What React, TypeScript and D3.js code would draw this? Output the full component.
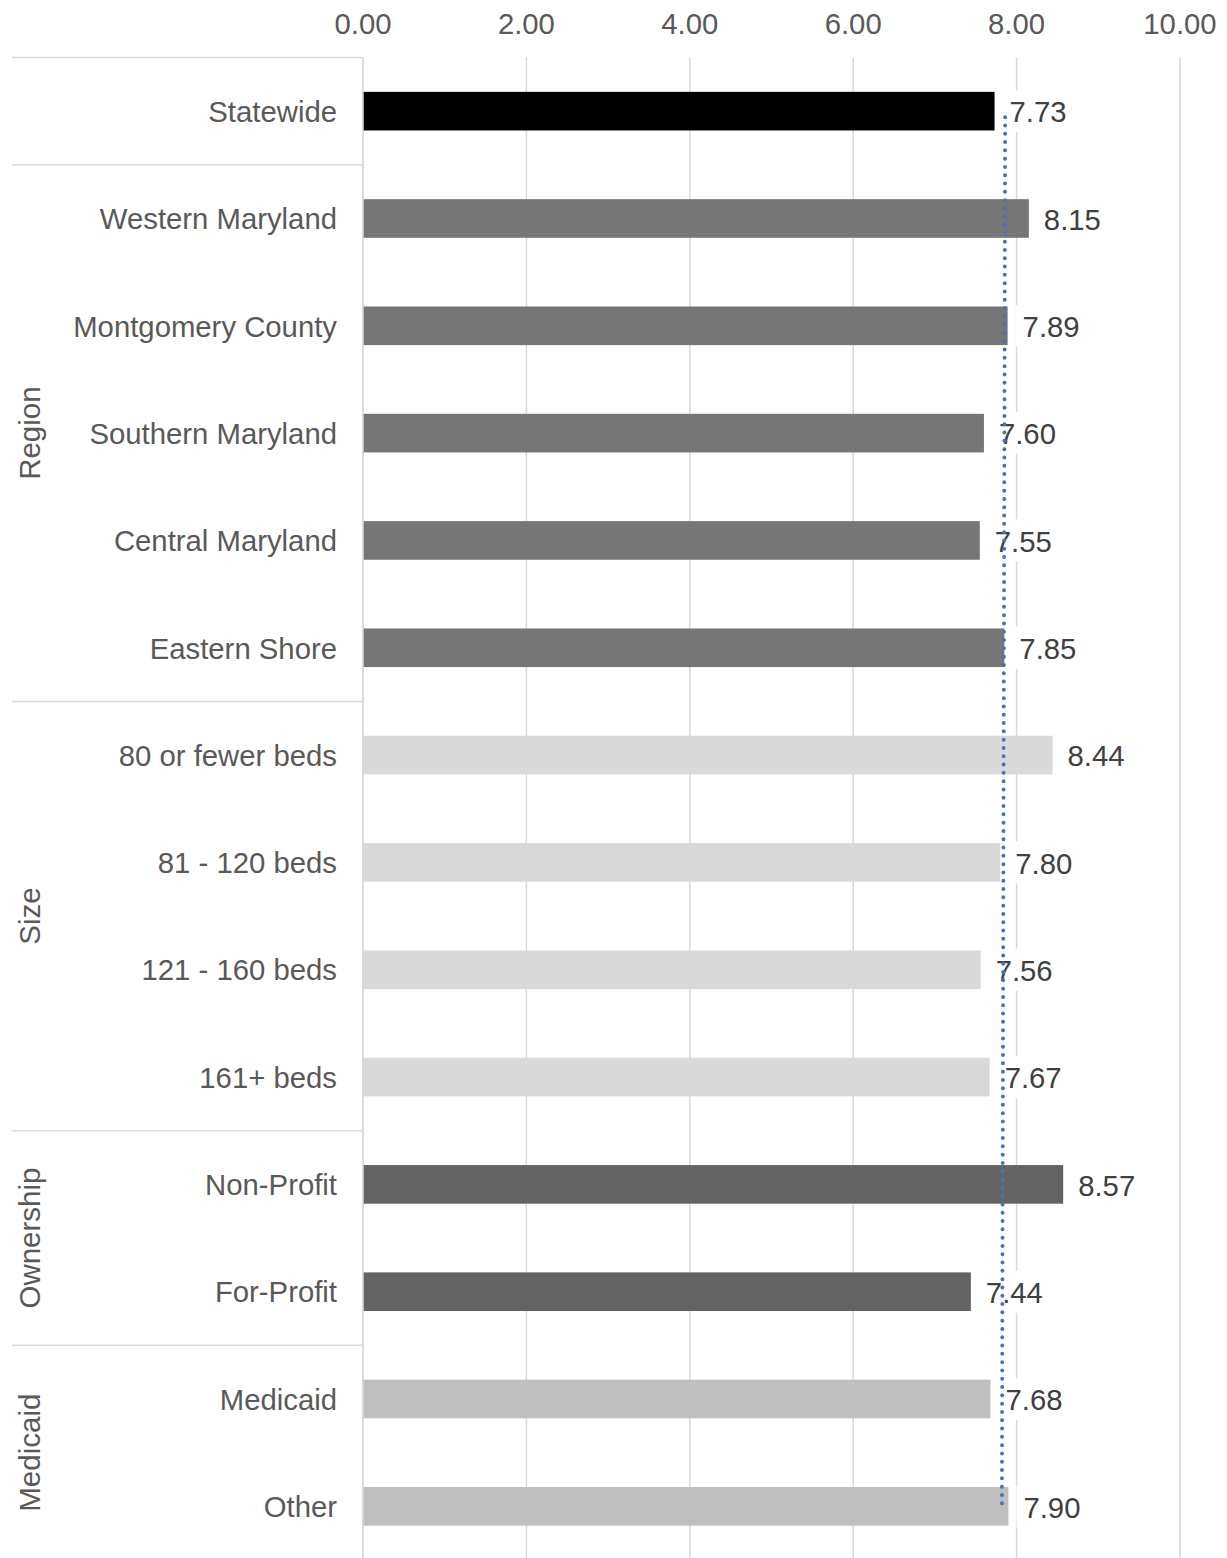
import React from "react";
import * as d3 from "d3";

// Categories in display order, top to bottom
const categories = [
  "Statewide",
  "Western Maryland",
  "Montgomery County",
  "Southern Maryland",
  "Central Maryland",
  "Eastern Shore",
  "80 or fewer beds",
  "81 - 120 beds",
  "121 - 160 beds",
  "161+ beds",
  "Non-Profit",
  "For-Profit",
  "Medicaid",
  "Other",
];

// Group each category belongs to
const groupOf = [
  "",
  "Region", "Region", "Region", "Region", "Region",
  "Size", "Size", "Size", "Size",
  "Ownership", "Ownership",
  "Medicaid", "Medicaid",
];

// Mean scores
const values = [7.73, 8.15, 7.89, 7.6, 7.55, 7.85, 8.44, 7.8, 7.56, 7.67, 8.57, 7.44, 7.68, 7.9];

// Reference line (first and last category)
const refLine = [7.86, 7.82];

const xTicks = [0, 2, 4, 6, 8, 10];

const groupColors: Record<string, string> = {
  "": "#000000",
  Region: "#767676",
  Size: "#d9d9d9",
  Ownership: "#636363",
  Medicaid: "#bfbfbf",
};

const W = 1227;
const H = 1558;
const FONT = "'Liberation Sans', Arial, sans-serif";
const FS = 29.3;

function textWidth(s: string, size: number) {
  let w = 0;
  for (const c of s) w += c === "." ? 0.278 : 0.556;
  return w * size;
}

export default function App() {
  const x = d3.scaleLinear().domain([0, 10]).range([363, 1180]);
  const y = d3.scaleBand<string>().domain(categories).range([57.5, 1560]).padding(0);
  const bw = y.bandwidth();
  const barH = bw * 0.36;

  // Group spans
  const groups: { name: string; start: number; end: number }[] = [];
  groupOf.forEach((g, i) => {
    const last = groups[groups.length - 1];
    if (last && last.name === g) last.end = i;
    else groups.push({ name: g, start: i, end: i });
  });

  const refY0 = (y(categories[0]) as number) + bw / 2;
  const refY1 = (y(categories[categories.length - 1]) as number) + bw / 2;

  return (
    <svg
      width={W}
      height={H}
      style={{ position: "absolute", left: 0, top: 0, background: "#fff" }}
      fontFamily={FONT}
    >
      {/* gridlines */}
      {xTicks.map((t) => (
        <line key={t} x1={x(t)} x2={x(t)} y1={57.5} y2={H} stroke="#d9d9d9" strokeWidth={1.5} />
      ))}
      {/* tick labels */}
      {xTicks.map((t) => (
        <text key={"t" + t} x={x(t)} y={23.5} dy="0.35em" textAnchor="middle" fontSize={FS} fill="#595959">
          {t.toFixed(2)}
        </text>
      ))}
      {/* group separators */}
      {groups.map((g) => {
        const yy = y(categories[g.start]) as number;
        return <line key={"s" + g.start} x1={12} x2={363} y1={yy} y2={yy} stroke="#d9d9d9" strokeWidth={1.5} />;
      })}
      {/* group labels */}
      {groups
        .filter((g) => g.name)
        .map((g) => {
          const y0 = y(categories[g.start]) as number;
          const y1 = (y(categories[g.end]) as number) + bw;
          const cy = (y0 + y1) / 2;
          return (
            <text
              key={"g" + g.name}
              transform={`translate(30,${cy}) rotate(-90)`}
              dy="0.35em"
              textAnchor="middle"
              fontSize={29.5}
              fill="#595959"
            >
              {g.name}
            </text>
          );
        })}
      {/* category labels */}
      {categories.map((c) => (
        <text
          key={"c" + c}
          x={337}
          y={(y(c) as number) + bw / 2 + 0.5}
          dy="0.35em"
          textAnchor="end"
          fontSize={FS}
          fill="#595959"
        >
          {c}
        </text>
      ))}
      {/* bars */}
      {categories.map((c, i) => (
        <rect
          key={"b" + c}
          x={x(0)}
          y={(y(c) as number) + (bw - barH) / 2}
          width={x(values[i]) - x(0)}
          height={barH}
          fill={groupColors[groupOf[i]]}
        />
      ))}
      {/* axis line */}
      <line x1={x(0)} x2={x(0)} y1={57.5} y2={H} stroke="#d9d9d9" strokeWidth={1.5} />
      {/* value labels */}
      {categories.map((c, i) => {
        const s = values[i].toFixed(2);
        const tw = textWidth(s, FS);
        const cy = (y(c) as number) + bw / 2;
        const bx = x(values[i]) + 8;
        return (
          <g key={"v" + c}>
            <rect x={bx} y={cy - 21} width={tw + 14} height={42} fill="#fff" />
            <text x={bx + 7} y={cy + 1} dy="0.35em" fontSize={FS} fill="#404040">
              {s}
            </text>
          </g>
        );
      })}
      {/* dotted reference line */}
      <line
        x1={x(refLine[0])}
        x2={x(refLine[1])}
        y1={refY0 + 6}
        y2={refY1}
        stroke="#4472c4"
        strokeWidth={4}
        strokeLinecap="round"
        strokeDasharray="0 8.3"
      />
    </svg>
  );
}
